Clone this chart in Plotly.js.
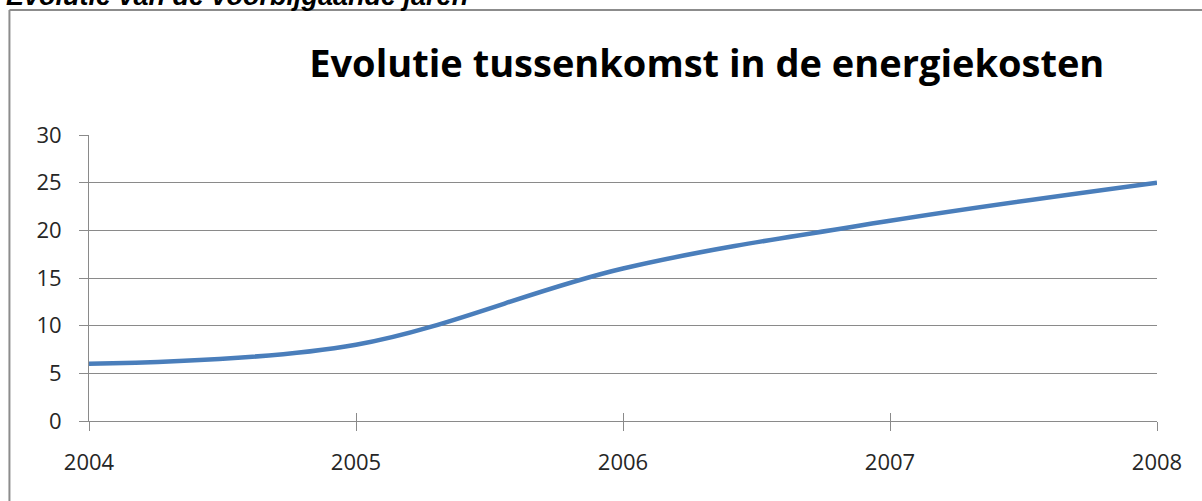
<!DOCTYPE html>
<html>
<head>
<meta charset="utf-8">
<script src="https://cdn.plot.ly/plotly-3.0.1.min.js"></script>
<style>
  html, body { margin: 0; padding: 0; background: #fff; }
  #chart { width: 1202px; height: 501px; }
</style>
</head>
<body>
<div id="chart"></div>
<script>
// chart values
let years = [2004, 2005, 2006, 2007, 2008];
let tussenkomst = [6, 8, 16, 21, 25];
let yTicks = [0, 5, 10, 15, 20, 25, 30];

let chartTitle = "Evolutie tussenkomst in de energiekosten";
let sectionTitle = "Evolutie van de voorbijgaande jaren";

let axisColor = "#8a8a8a";
let textColor = "#262626";

let lineData = [{
  x: years,
  y: tussenkomst,
  type: "scatter",
  mode: "lines",
  line: {
    color: "#4a7ebb",
    width: 4.5,
    shape: "spline",
    smoothing: 1
  },
  hoverinfo: "x+y",
  showlegend: false
}];

let chartLayout = {
  width: 1202,
  height: 501,
  paper_bgcolor: "#ffffff",
  plot_bgcolor: "#ffffff",
  font: {
    family: "Open Sans, sans-serif",
    color: textColor
  },
  margin: { t: 135, l: 89, r: 45, b: 80, pad: 0 },
  title: {
    text: "<b>" + chartTitle + "</b>",
    font: { size: 38, color: "#000000", family: "Open Sans, sans-serif" },
    x: 0.588,
    xanchor: "center",
    y: 0.872,
    yanchor: "middle"
  },
  xaxis: {
    range: [2004, 2008],
    tickvals: years,
    ticktext: years.map(String),
    showgrid: false,
    zeroline: false,
    showline: true,
    linecolor: axisColor,
    linewidth: 1,
    ticks: "outside",
    ticklen: 9,
    tickcolor: axisColor,
    tickwidth: 1,
    ticklabelstandoff: 13,
    tickfont: { size: 22, color: textColor }
  },
  // second x axis only to draw the upper half of the crossing tick marks
  xaxis2: {
    overlaying: "x",
    range: [2004, 2008],
    tickvals: years,
    showticklabels: false,
    showgrid: false,
    zeroline: false,
    showline: false,
    ticks: "inside",
    ticklen: 8,
    tickcolor: axisColor,
    tickwidth: 1,
    side: "bottom"
  },
  yaxis: {
    range: [0, 30],
    tickvals: yTicks,
    showgrid: true,
    gridcolor: axisColor,
    gridwidth: 1,
    zeroline: false,
    showline: true,
    linecolor: axisColor,
    linewidth: 1,
    ticks: "outside",
    ticklen: 9,
    tickcolor: axisColor,
    tickwidth: 1,
    ticklabelstandoff: 13,
    tickfont: { size: 22, color: textColor }
  },
  shapes: [
    // frame of the embedded chart (left and top edges are in view)
    {
      type: "line", xref: "paper", yref: "paper",
      x0: -0.0745, x1: -0.0745, y0: 1.437, y1: -0.35,
      line: { color: "#8c8c8c", width: 2 }
    },
    {
      type: "line", xref: "paper", yref: "paper",
      x0: -0.0745, x1: 1.1, y0: 1.437, y1: 1.437,
      line: { color: "#8c8c8c", width: 2 }
    }
  ],
  annotations: [{
    text: "<b><i>" + sectionTitle + "</i></b>",
    xref: "paper", yref: "paper",
    x: -0.08, xanchor: "left",
    y: 1.485, yanchor: "middle",
    showarrow: false,
    font: { size: 27, color: "#000000", family: "Liberation Sans, Arial, sans-serif" }
  }]
};

// an empty trace on xaxis2 so that axis is drawn
lineData.push({
  x: [2004], y: [null], xaxis: "x2", type: "scatter", mode: "lines",
  showlegend: false, hoverinfo: "skip"
});

Plotly.newPlot("chart", lineData, chartLayout, { displayModeBar: false, staticPlot: true });
</script>
</body>
</html>
